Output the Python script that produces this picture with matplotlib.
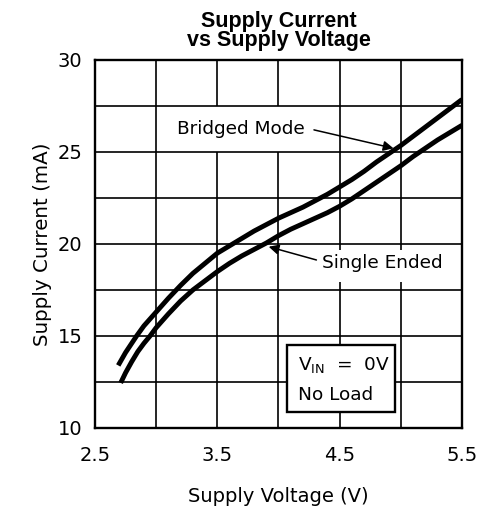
import numpy as np
import matplotlib
matplotlib.use('Agg')
import matplotlib.pyplot as plt
from matplotlib import font_manager

bridged_v = [2.69, 2.75, 2.80, 2.84, 2.90, 3.00, 3.10, 3.20, 3.30, 3.40, 3.50, 3.60,
             3.70, 3.80, 3.90, 4.00, 4.10, 4.20, 4.30, 4.40, 4.50, 4.60, 4.70, 4.80,
             4.90, 5.00, 5.10, 5.20, 5.30, 5.40, 5.50]
bridged_ma = [13.4, 14.1, 14.6, 15.0, 15.55, 16.3, 17.05, 17.75, 18.4, 18.95, 19.5, 19.9,
              20.3, 20.7, 21.05, 21.4, 21.7, 22.0, 22.35, 22.7, 23.1, 23.5, 23.95, 24.45,
              24.9, 25.35, 25.85, 26.35, 26.85, 27.35, 27.85]

single_v = [2.71, 2.75, 2.80, 2.85, 2.90, 2.95, 3.00, 3.10, 3.20, 3.30, 3.40, 3.50,
            3.60, 3.70, 3.80, 3.90, 4.00, 4.10, 4.20, 4.30, 4.40, 4.50, 4.60, 4.70,
            4.80, 4.90, 5.00, 5.10, 5.20, 5.30, 5.40, 5.50]
single_ma = [12.45, 13.0, 13.6, 14.15, 14.6, 15.0, 15.45, 16.2, 16.9, 17.5, 18.0, 18.5,
             18.95, 19.35, 19.7, 20.05, 20.45, 20.8, 21.1, 21.4, 21.7, 22.05, 22.45, 22.9,
             23.35, 23.8, 24.25, 24.75, 25.2, 25.65, 26.05, 26.45]

x_ticks = [2.5, 3.5, 4.5, 5.5]
y_ticks = [10, 15, 20, 25, 30]
x_grid = np.arange(3.0, 5.01, 0.5)
y_grid = np.arange(12.5, 27.51, 2.5)

plt.rcParams['font.family'] = ['DejaVu Sans']

# regular-width Liberation Sans Bold for the title (skip the Narrow variant)
title_font = None
for f in font_manager.fontManager.ttflist:
    if f.name == 'Liberation Sans' and f.weight in (700, 'bold') and f.style == 'normal' \
            and 'Narrow' not in f.fname:
        title_font = font_manager.FontProperties(fname=f.fname, size=15.5)
        break
if title_font is None:
    title_font = font_manager.FontProperties(family='DejaVu Sans', weight='bold', size=14)

fig = plt.figure(figsize=(4.79, 5.08), dpi=100)
ax = fig.add_axes([0.1983, 0.1575, 0.7662, 0.7245])

# grid: vertical lines under the label masks, horizontal ones above
for gx in x_grid:
    ax.axvline(gx, color='black', lw=1.2, zorder=1)
for gy in y_grid:
    ax.axhline(gy, color='black', lw=1.2, zorder=2.5)
ax.add_patch(plt.Rectangle((3.2, 25.0), 1.05, 2.5, facecolor='white', edgecolor='none', zorder=2))
ax.add_patch(plt.Rectangle((4.3, 17.93), 1.1, 1.74, facecolor='white', edgecolor='none', zorder=2))

ax.plot(bridged_v, bridged_ma, color='black', lw=3.5, solid_capstyle='butt', zorder=4)
ax.plot(single_v, single_ma, color='black', lw=3.5, solid_capstyle='butt', zorder=4)

ax.set_xlim(2.5, 5.5)
ax.set_ylim(10, 30)
ax.set_xticks(x_ticks)
ax.set_yticks(y_ticks)
ax.tick_params(length=0, labelsize=14)
ax.tick_params(axis='x', pad=13)
ax.tick_params(axis='y', pad=9)
for s in ax.spines.values():
    s.set_linewidth(1.7)
    s.set_zorder(5)

ax.set_xlabel('Supply Voltage (V)', fontsize=14, labelpad=16)
ax.set_ylabel('Supply Current (mA)', fontsize=14.3, labelpad=4)
ax.set_title('Supply Current\nvs Supply Voltage', fontproperties=title_font,
             linespacing=0.85, pad=10)

ax.text(3.69, 26.25, 'Bridged Mode', fontsize=13.3, ha='center', va='center', zorder=3)
ax.annotate('', xy=(4.94, 25.2), xytext=(4.29, 26.2),
            arrowprops=dict(arrowstyle='-|>', color='black', lw=1.1,
                            mutation_scale=15, shrinkA=0, shrinkB=0), zorder=5)

ax.text(4.85, 18.95, 'Single Ended', fontsize=13.3, ha='center', va='center', zorder=3)
ax.annotate('', xy=(3.92, 19.85), xytext=(4.31, 19.13),
            arrowprops=dict(arrowstyle='-|>', color='black', lw=1.1,
                            mutation_scale=15, shrinkA=0, shrinkB=0), zorder=5)

box = plt.Rectangle((4.07, 10.87), 0.88, 3.64, facecolor='white', edgecolor='black',
                    lw=1.7, zorder=3)
ax.add_patch(box)
ax.text(4.16, 13.45, r'$\mathregular{V_{IN}}$  =  0V', fontsize=13.3, ha='left', va='center', zorder=4)
ax.text(4.16, 11.8, 'No Load', fontsize=13.3, ha='left', va='center', zorder=4)

fig.savefig('out.png', dpi=100)
